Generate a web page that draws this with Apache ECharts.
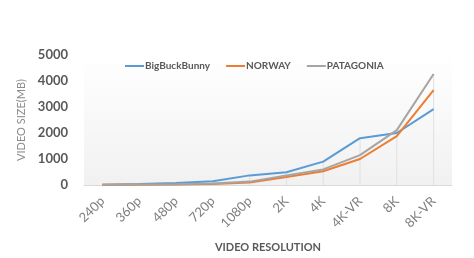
<!DOCTYPE html>
<html>
<head>
<meta charset="utf-8">
<style>
  html, body { margin: 0; padding: 0; background: #fff; }
  #chart { width: 474px; height: 258px; }
</style>
<script src="https://cdn.jsdelivr.net/npm/echarts@6/dist/echarts.min.js"></script>
</head>
<body>
<div id="chart"></div>
<script>
var categories = ['240p', '360p', '480p', '720p', '1080p', '2K', '4K', '4K-VR', '8K', '8K-VR'];
var bigBuckBunny = [10, 40, 80, 140, 370, 490, 900, 1800, 2000, 2920];
var norway = [5, 10, 20, 40, 100, 310, 530, 1000, 1880, 3650];
var patagonia = [5, 15, 30, 60, 130, 370, 600, 1150, 2110, 4270];
var yTicks = { min: 0, max: 5000, interval: 1000 };

// drop lines go from the highest series at each category down to the axis
var dropLines = categories.map(function (c, i) {
    return Math.max(bigBuckBunny[i], norway[i], patagonia[i]);
});

var font = 'Lato, "Open Sans", sans-serif';

function line(name, data, color) {
    return {
        name: name,
        type: 'line',
        data: data,
        symbol: 'none',
        z: 3,
        lineStyle: { color: color, width: 2 },
        itemStyle: { color: color }
    };
}

var myChart = echarts.init(document.getElementById('chart'));
myChart.setOption({
    animation: false,
    textStyle: { fontFamily: font },
    legend: {
        data: ['BigBuckBunny', 'NORWAY', 'PATAGONIA'],
        top: 56,
        left: 120,
        itemWidth: 19,
        itemHeight: 2,
        itemGap: 16,
        icon: 'rect',
        textStyle: {
            fontSize: 10, fontWeight: 'bold', color: '#595959', fontFamily: font,
            padding: [0, 0, 0, -4]
        }
    },
    grid: {
        left: 84, right: 22, top: 55, bottom: 73,
        show: true,
        borderWidth: 0,
        backgroundColor: new echarts.graphic.LinearGradient(0, 0, 0, 1, [
            { offset: 0, color: '#ffffff' },
            { offset: 1, color: '#f1f1f1' }
        ])
    },
    xAxis: {
        type: 'category',
        data: categories,
        boundaryGap: true,
        name: 'VIDEO RESOLUTION',
        nameLocation: 'middle',
        nameGap: 57,
        nameTextStyle: { fontSize: 11, fontWeight: 'bold', color: '#595959', fontFamily: font },
        axisLine: { lineStyle: { color: '#d9d9d9', width: 1 } },
        axisTick: { show: false },
        axisLabel: { rotate: 45, fontSize: 13, color: '#7f7f7f', margin: 14, fontFamily: font }
    },
    yAxis: {
        type: 'value',
        min: yTicks.min,
        max: yTicks.max,
        interval: yTicks.interval,
        name: 'VIDEO SIZE(MB)',
        nameLocation: 'middle',
        nameRotate: 90,
        nameGap: 44,
        nameTextStyle: { fontSize: 11, color: '#8c8c8c', fontFamily: font },
        axisLine: { show: false },
        axisTick: { show: false },
        splitLine: { show: false },
        axisLabel: {
            fontSize: 13, fontWeight: 'bold', color: '#595959', margin: 16, fontFamily: font,
            formatter: function (v) { return String(v); }
        }
    },
    series: [
        {
            name: 'drop',
            type: 'bar',
            data: dropLines,
            barWidth: 1,
            silent: true,
            z: 1,
            itemStyle: { color: '#e0e0e0' }
        },
        line('BigBuckBunny', bigBuckBunny, '#5B9BD5'),
        line('NORWAY', norway, '#ED7D31'),
        line('PATAGONIA', patagonia, '#A5A5A5')
    ]
});
</script>
</body>
</html>
